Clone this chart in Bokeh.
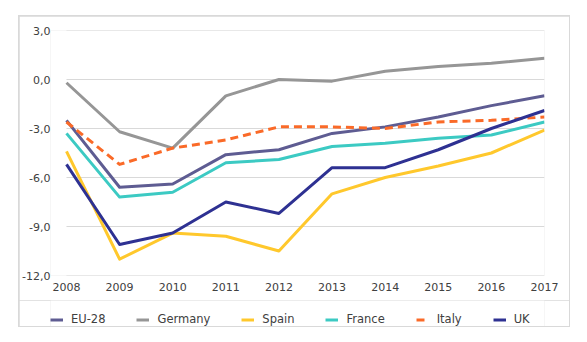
from bokeh.plotting import figure
from bokeh.models import FixedTicker, Legend, LegendItem, Range1d
from bokeh.layouts import column
from bokeh.embed import file_html
from bokeh.resources import INLINE

years = [2008, 2009, 2010, 2011, 2012, 2013, 2014, 2015, 2016, 2017]
eu28 = [-2.5, -6.6, -6.4, -4.6, -4.3, -3.3, -2.9, -2.3, -1.6, -1.0]
germany = [-0.2, -3.2, -4.2, -1.0, 0.0, -0.1, 0.5, 0.8, 1.0, 1.3]
spain = [-4.4, -11.0, -9.4, -9.6, -10.5, -7.0, -6.0, -5.3, -4.5, -3.1]
france = [-3.3, -7.2, -6.9, -5.1, -4.9, -4.1, -3.9, -3.6, -3.4, -2.6]
italy = [-2.6, -5.2, -4.2, -3.7, -2.9, -2.9, -3.0, -2.6, -2.5, -2.3]
uk = [-5.2, -10.1, -9.4, -7.5, -8.2, -5.4, -5.4, -4.3, -3.0, -1.9]

y_ticks = [-12, -9, -6, -3, 0, 3]
y_tick_labels = ["-12,0", "-9,0", "-6,0", "-3,0", "0,0", "3,0"]
x_tick_labels = [str(y) for y in years]

series = [
    ("EU-28", eu28, "#5E5C92", None),
    ("Germany", germany, "#969696", None),
    ("Spain", spain, "#FFC82C", None),
    ("France", france, "#3CCAC3", None),
    ("Italy", italy, "#FA6A28", "8 5"),
    ("UK", uk, "#2E3192", None),
]

FONT = "DejaVu Sans"
TXT = "#404040"
LEFT_PAD = 0.301  # years of empty space left of the first category

# main chart
p = figure(width=550, height=284, output_backend="svg", toolbar_location=None,
           x_range=Range1d(years[0] - LEFT_PAD, years[-1]), y_range=Range1d(-12, 3),
           min_border_left=31, min_border_right=25, min_border_top=14,
           min_border_bottom=25, margin=(1, 1, 0, 1))
p.outline_line_color = None
p.background_fill_color = "white"
p.border_fill_color = "white"
p.grid.visible = False

# horizontal gridlines spanning the category extent only
p.segment(x0=years[0], x1=years[-1], y0=y_ticks, y1=y_ticks,
          line_color="#d9d9d9", line_width=1)

# legend strip
lg = figure(width=550, height=26, output_backend="svg", toolbar_location=None,
            x_range=Range1d(0, 1), y_range=Range1d(0, 1),
            x_axis_location=None, y_axis_location=None,
            min_border_left=31, min_border_right=25, min_border_top=0,
            min_border_bottom=0, margin=(0, 1, 1, 1))
lg.outline_line_color = None
lg.grid.visible = False
lg.background_fill_color = "white"
lg.border_fill_color = "white"

items = []
for name, vals, color, dash in series:
    kw = {}
    if dash:
        kw["line_dash"] = dash
    p.line(years, vals, line_color=color, line_width=3, line_join="round", **kw)
    # proxy renderer for the legend strip (its data lies outside the strip's ranges)
    proxy = lg.line(years, vals, line_color=color, line_width=3, **kw)
    items.append(LegendItem(label=name, renderers=[proxy]))

p.yaxis.ticker = FixedTicker(ticks=y_ticks)
p.yaxis.major_label_overrides = {t: l for t, l in zip(y_ticks, y_tick_labels)}
p.xaxis.ticker = FixedTicker(ticks=years)
p.xaxis.major_label_overrides = {t: l for t, l in zip(years, x_tick_labels)}

for ax in (p.xaxis[0], p.yaxis[0]):
    ax.axis_line_color = None
    ax.major_tick_line_color = None
    ax.minor_tick_line_color = None
    ax.major_tick_out = 0
    ax.major_tick_in = 0
    ax.minor_tick_out = 0
    ax.major_label_text_font = FONT
    ax.major_label_text_font_size = "11px"
    ax.major_label_text_color = TXT
p.yaxis.major_label_standoff = 0
p.xaxis.major_label_standoff = 7

legend = Legend(items=items, orientation="horizontal", location=(0, 0),
                glyph_width=13, glyph_height=13, label_standoff=8, spacing=31,
                padding=0, margin=0, border_line_color=None,
                background_fill_alpha=0, label_text_font=FONT,
                label_text_font_size="11.5px", label_text_color=TXT,
                label_height=13)
lg.add_layout(legend, "center")

layout = column(p, lg, spacing=0, margin=(15, 0, 0, 18),
                sizing_mode="fixed", width=552, height=312,
                styles={"background-color": "#d9d9d9"})

open("out.html", "w").write(file_html(layout, INLINE))
